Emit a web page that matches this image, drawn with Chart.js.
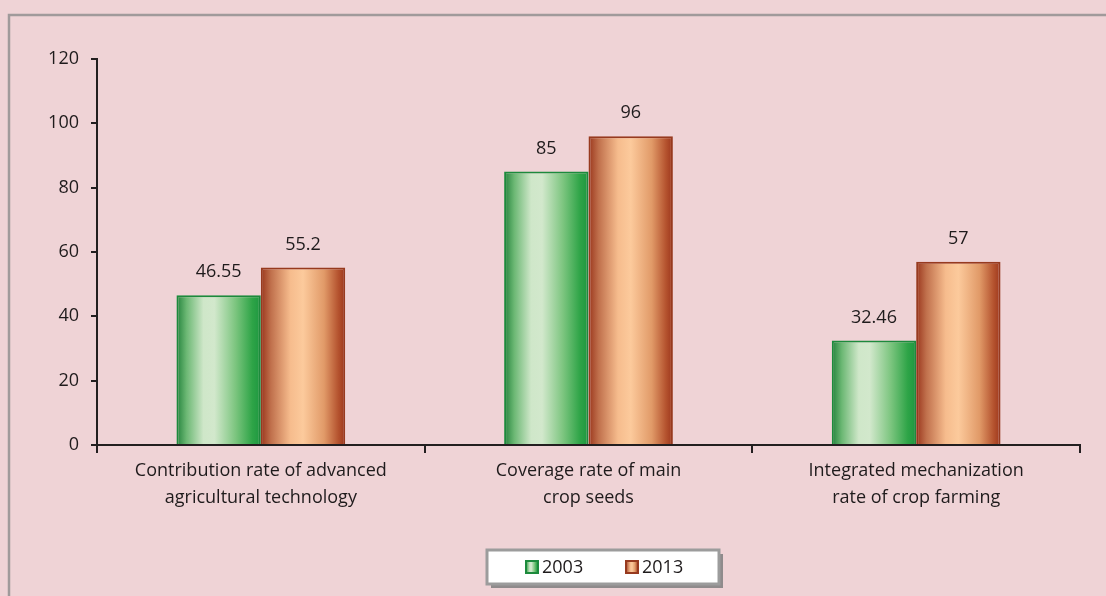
<!DOCTYPE html>
<html>
<head>
<meta charset="utf-8">
<script src="https://cdn.jsdelivr.net/npm/chart.js@4"></script>
<style>
  html, body { margin: 0; padding: 0; background: #efd3d6; }
  #wrap { width: 1106px; height: 596px; position: relative; }
</style>
</head>
<body>
<div id="wrap"><canvas id="chart" width="1106" height="596"></canvas></div>
<script>
const categories = [
    ['Contribution rate of advanced', 'agricultural technology'],
    ['Coverage rate of main', 'crop seeds'],
    ['Integrated mechanization', 'rate of crop farming']
];
const years = ['2003', '2013'];
const values2003 = [46.55, 85, 32.46];
const values2013 = [55.2, 96, 57];
const valueLabels2003 = ['46.55', '85', '32.46'];
const valueLabels2013 = ['55.2', '96', '57'];

const FONT = "'Open Sans', sans-serif";
const TEXT = '#1f1b1c';

// horizontal "cylinder" shading for each series
const stops = [
    [[0, '#23823c'], [0.12, '#6cb874'], [0.32, '#cfe7c9'], [0.45, '#d2e8cc'], [0.7, '#7cc57f'], [0.9, '#2ea447'], [1, '#1d9640']],
    [[0, '#9a361c'], [0.12, '#c0704c'], [0.35, '#f6bc8d'], [0.5, '#fcca9c'], [0.75, '#e19a68'], [0.92, '#b4522e'], [1, '#9c361c']]
];
const borders = ['#1c8a3c', '#973a1f'];

const makeGradient = (ctx, x0, x1, set) => {
    const g = ctx.createLinearGradient(x0, 0, x1, 0);
    set.forEach(s => g.addColorStop(s[0], s[1]));
    return g;
};

const shadingPlugin = {
    id: 'shading',
    beforeDatasetsDraw(chart) {
        chart.data.datasets.forEach((ds, i) => {
            chart.getDatasetMeta(i).data.forEach(el => {
                const { x, width } = el.getProps(['x', 'width'], true);
                el.options.backgroundColor = makeGradient(chart.ctx, x - width / 2, x + width / 2, stops[i]);
            });
        });
    }
};

const framePlugin = {
    id: 'frame',
    beforeDraw(chart) {
        const ctx = chart.ctx;
        ctx.save();
        ctx.fillStyle = '#efd3d6';
        ctx.fillRect(0, 0, chart.width, chart.height);
        ctx.strokeStyle = '#a09a9b';
        ctx.lineWidth = 2.5;
        ctx.strokeRect(9, 15, 1200, 700);
        ctx.restore();
    }
};

const valueLabelPlugin = {
    id: 'valueLabels',
    afterDatasetsDraw(chart) {
        const ctx = chart.ctx;
        const labels = [valueLabels2003, valueLabels2013];
        ctx.save();
        ctx.font = `18px ${FONT}`;
        ctx.fillStyle = TEXT;
        ctx.textAlign = 'center';
        ctx.textBaseline = 'middle';
        chart.data.datasets.forEach((ds, i) => {
            chart.getDatasetMeta(i).data.forEach((el, j) => {
                ctx.fillText(labels[i][j], el.x, el.y - 23);
            });
        });
        ctx.restore();
    }
};

const legendPlugin = {
    id: 'boxLegend',
    afterDraw(chart) {
        const ctx = chart.ctx;
        const bx = 487, by = 550, bw = 232, bh = 34;
        ctx.save();
        // shadow
        ctx.fillStyle = '#8f8b8c';
        ctx.fillRect(bx + 4, by + 4, bw, bh);
        ctx.fillStyle = '#ffffff';
        ctx.fillRect(bx, by, bw, bh);
        ctx.strokeStyle = '#9c9c9c';
        ctx.lineWidth = 3;
        ctx.strokeRect(bx, by, bw, bh);

        ctx.font = `18px ${FONT}`;
        ctx.textBaseline = 'middle';
        ctx.textAlign = 'left';
        const items = [[526, years[0]], [626, years[1]]];
        items.forEach((it, i) => {
            const sx = it[0], sy = by + bh / 2 - 6;
            ctx.fillStyle = makeGradient(ctx, sx, sx + 12, stops[i]);
            ctx.fillRect(sx, sy, 12, 12);
            ctx.strokeStyle = borders[i];
            ctx.lineWidth = 2;
            ctx.strokeRect(sx, sy, 12, 12);
            ctx.fillStyle = TEXT;
            ctx.fillText(it[1], sx + 16, by + bh / 2 + 1);
        });
        ctx.restore();
    }
};

const chart = new Chart(document.getElementById('chart'), {
    type: 'bar',
    data: {
        labels: categories,
        datasets: [
            {
                label: years[0],
                data: values2003,
                backgroundColor: () => '#4caf50',
                borderColor: borders[0],
                borderWidth: 2,
                borderSkipped: 'bottom'
            },
            {
                label: years[1],
                data: values2013,
                backgroundColor: () => '#e8a070',
                borderColor: borders[1],
                borderWidth: 2,
                borderSkipped: 'bottom'
            }
        ]
    },
    options: {
        responsive: false,
        animation: false,
        datasets: {
            bar: { categoryPercentage: 0.515, barPercentage: 1 }
        },
        layout: { padding: { left: 10, right: 26, top: 59, bottom: 0 } },
        plugins: {
            legend: { display: false },
            tooltip: { enabled: false }
        },
        scales: {
            x: {
                afterFit: scale => { scale.height = 151; },
                grid: {
                    drawOnChartArea: false,
                    drawTicks: true,
                    tickLength: 8,
                    color: '#231f20',
                    lineWidth: 2,
                    offset: true
                },
                border: { color: '#231f20', width: 2 },
                ticks: {
                    color: TEXT,
                    font: { family: FONT, size: 18, lineHeight: 1.5 },
                    padding: 4,
                    maxRotation: 0
                }
            },
            y: {
                min: 0,
                max: 120,
                afterFit: scale => { scale.width = 87; },
                grid: {
                    drawOnChartArea: false,
                    drawTicks: true,
                    tickLength: 6,
                    color: '#231f20',
                    lineWidth: 2
                },
                border: { color: '#231f20', width: 2 },
                ticks: {
                    stepSize: 20,
                    color: TEXT,
                    font: { family: FONT, size: 18 },
                    padding: 12
                }
            }
        }
    },
    plugins: [framePlugin, shadingPlugin, valueLabelPlugin, legendPlugin]
});
</script>
</body>
</html>
